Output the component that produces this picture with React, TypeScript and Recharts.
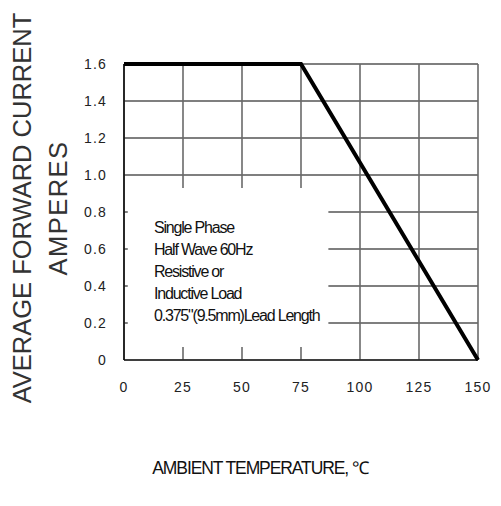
import React from "react";
import {
  CartesianGrid,
  Line,
  LineChart,
  ReferenceArea,
  XAxis,
  YAxis,
} from "recharts";

// derating curve: ambient temperature (°C) vs average forward current (A)
const temps = [0, 75, 150];
const amps = [1.6, 1.6, 0];
const xTicks = [0, 25, 50, 75, 100, 125, 150];
const yTicks = [0, 0.2, 0.4, 0.6, 0.8, 1.0, 1.2, 1.4, 1.6];
const noteLines = [
  "Single Phase",
  "Half Wave 60Hz",
  "Resistive or",
  "Inductive Load",
  '0.375"(9.5mm)Lead Length',
];

const data = temps.map((t, i) => ({ t, a: amps[i] }));

const font = "'Liberation Sans', Arial, sans-serif";
const tickStyle = { fontFamily: font, fontSize: 14, fill: "#222", letterSpacing: 1.2 };

export default function App() {
  return (
    <div style={{ position: "absolute", left: 0, top: 0, width: 501, height: 506, background: "#fff" }}>
      <LineChart
        width={501}
        height={506}
        data={data}
        margin={{ top: 64, right: 23, bottom: 116, left: 64 }}
      >
        <CartesianGrid horizontal vertical={false} stroke="#000" strokeWidth={1.2} />
        <CartesianGrid horizontal={false} vertical stroke="#6a6a6a" strokeWidth={1.6} />
        <XAxis
          type="number"
          dataKey="t"
          domain={[0, 150]}
          ticks={xTicks}
          height={30}
          tickLine={false}
          tickMargin={16}
          axisLine={{ stroke: "#000", strokeWidth: 1.2 }}
          tick={tickStyle}
          interval={0}
        />
        <YAxis
          type="number"
          domain={[0, 1.6]}
          ticks={yTicks}
          width={60}
          tickLine={false}
          tickMargin={11}
          axisLine={{ stroke: "#000", strokeWidth: 1.4 }}
          tick={tickStyle}
          tickFormatter={(v: number) => (v === 0 ? "0" : v.toFixed(1))}
          interval={0}
        />
        <ReferenceArea x1={1.6} x2={86.6} y1={0.07} y2={0.93} fill="#fff" fillOpacity={1} stroke="none" />
        <Line
          type="linear"
          dataKey="a"
          stroke="#000"
          strokeWidth={4}
          dot={false}
          isAnimationActive={false}
        />
      </LineChart>

      <div
        style={{
          position: "absolute",
          left: 154,
          top: 217,
          fontFamily: font,
          fontSize: 16,
          letterSpacing: -1.2,
          lineHeight: "22px",
          color: "#111",
          whiteSpace: "pre",
        }}
      >
        {noteLines.map((l) => (
          <div key={l}>{l}</div>
        ))}
      </div>

      <div
        style={{
          position: "absolute",
          left: 40,
          top: 208,
          transform: "translate(-50%, -50%) rotate(-90deg)",
          fontFamily: font,
          fontSize: 25.5,
          color: "#333",
          whiteSpace: "nowrap",
          textAlign: "center",
          lineHeight: "36px",
        }}
      >
        <div>AVERAGE FORWARD CURRENT</div>
        <div style={{ letterSpacing: 1.5 }}>AMPERES</div>
      </div>

      <div
        style={{
          position: "absolute",
          left: 260,
          top: 467,
          transform: "translate(-50%, -50%)",
          fontFamily: font,
          fontSize: 17.5,
          letterSpacing: -1.1,
          color: "#111",
          whiteSpace: "nowrap",
        }}
      >
        AMBIENT TEMPERATURE, ℃
      </div>
    </div>
  );
}
